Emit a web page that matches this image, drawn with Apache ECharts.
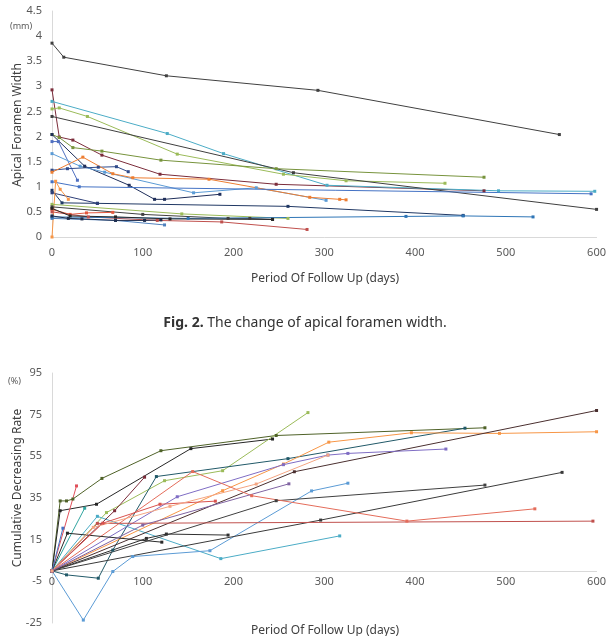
<!DOCTYPE html>
<html><head><meta charset="utf-8">
<script src="https://cdn.jsdelivr.net/npm/echarts@6/dist/echarts.min.js"></script>
<style>html,body{margin:0;padding:0;background:#fff}#c{width:609px;height:636px}</style>
</head><body><div id="c"></div>
<script>
// ---------- Top chart: apical foramen width (mm) vs days ----------
const widthTicks = [0,0.5,1,1.5,2,2.5,3,3.5,4,4.5];
const dayTicks = [0,100,200,300,400,500,600];
const w01 = [[0,3.86],[13,3.58],[126,3.21],[293,2.92],[559,2.04]];
const w02 = [[0,2.93],[8,1.99],[23,1.93],[55,1.63],[119,1.25],[247,1.05],[476,0.92]];
const w03 = [[0,2.70],[127,2.06],[189,1.66],[303,1.03],[492,0.92],[598,0.91]];
const w04 = [[0,2.55],[8,2.57],[39,2.40],[138,1.65],[255,1.25],[324,1.12],[433,1.07]];
const w05 = [[0,2.40],[266,1.28],[600,0.55]];
const w06 = [[0,2.04],[8,1.98],[23,1.78],[55,1.71],[120,1.53],[247,1.36],[476,1.19]];
const w07 = [[0,1.90],[7,1.90],[28,1.13]];
const w08 = [[0,2.04],[36,1.41],[85,1.03],[113,0.75],[124,0.75],[185,0.85]];
const w09 = [[0,1.66],[31,1.41],[58,1.29],[156,0.88],[225,0.98],[302,0.73]];
const w10 = [[0,1.33],[17,1.36],[51,1.39],[71,1.40],[84,1.30]];
const w11 = [[0,1.29],[34,1.59],[67,1.26],[89,1.18],[173,1.15],[284,0.79],[317,0.75],[324,0.74]];
const w12 = [[0,1.10],[30,1.00],[594,0.86]];
const w13 = [[0,0.93],[11,0.68],[50,0.67],[260,0.61],[453,0.43]];
const w14 = [[0,0.88],[50,0.67]];
const w15 = [[0,0],[4,1.11],[9,0.95],[18,0.75]];
const w16 = [[0,0.65],[143,0.46],[260,0.37]];
const w17 = [[0,0.60],[100,0.45],[194,0.37],[218,0.37],[243,0.35]];
const w18 = [[0,0.55],[20,0.45],[38,0.48],[67,0.49]];
const w19 = [[0,0.50],[40,0.40],[116,0.33],[187,0.30],[281,0.15]];
const w20 = [[0,0.37],[70,0.33],[124,0.24]];
const w21 = [[0,0.40],[150,0.37],[390,0.41],[453,0.42],[530,0.40]];
const w22 = [[0,0.42],[18,0.37],[33,0.36],[70,0.33],[102,0.33],[120,0.34]];
const w23 = [[0,0.57],[20,0.42],[70,0.40],[130,0.36],[243,0.35]];
const widthSeries = [w01,w02,w03,w04,w05,w06,w07,w08,w09,w10,w11,w12,w13,w14,w15,w16,w17,w18,w19,w20,w21,w22,w23];
const widthColors = ['#404040','#7B2C3A','#4BACC6','#9BBB59','#3F3F3F','#77933C','#4F6FC0','#1F2E5A','#5B9BD5','#2F4A8A','#ED7D31','#4472C4','#203864','#2E3F78','#F79646','#9BBB59','#404040','#E2583E','#C0504D','#4F81BD','#2E75B6','#1F2D4D','#262626'];

// ---------- Bottom chart: cumulative decreasing rate (%) vs days ----------
const rateTicks = [-25,-5,15,35,55,75,95];
const r01 = [[0,0],[9,33.6],[16,33.6],[23,34.5],[55,44.4],[120,57.7],[247,65],[477,68.7]];
const r02 = [[0,0],[9,28.9],[49,32],[153,58.7],[243,63.3]];
const r03 = [[0,0],[60,28],[124,43.3],[188,48.1],[282,76]];
const r04 = [[0,0],[27,40.8]];
const r05 = [[0,0],[36,30.1]];
const r06 = [[0,0],[50,26.2],[186,5.9],[317,16.8]];
const r07 = [[0,0],[34.5,-23.6],[67,-0.3],[89,6.9],[174,9.7],[286,38.4],[326,42.1]];
const r08 = [[0,0],[16,-1.9],[51,-3.5],[67,10],[115,45.3],[260,53.9],[455,68.5]];
const r09 = [[0,0],[188,38.5],[255,51.3],[305,61.8],[396,66.3],[493,66],[600,66.8]];
const r10 = [[0,0],[267,47.6],[600,77]];
const r11 = [[0,0],[138,35.6],[255,51],[304,55.6],[326,56.4],[434,58.5]];
const r12 = [[0,0],[296,24.4],[562,47.3]];
const r13 = [[0,0],[104,15.6],[126,17.7],[194,17.2]];
const r14 = [[0,0],[247,33.7],[477,41.2]];
const r15 = [[0,0],[155,47.7],[220,36.1],[391,23.9],[532,29.8]];
const r16 = [[0,0],[50,22.8],[596,23.9]];
const r17 = [[0,0],[17,18.1],[121,13.8]];
const r18 = [[0,0],[69,28.9],[102,45]];
const r19 = [[0,0],[56,22.9],[119,32],[180,33.5]];
const r20 = [[0,0],[12,20.5]];
const r21 = [[0,0],[100,22],[261,41.8]];
const r22 = [[0,0],[45.5,20.9],[130,31],[225,41.7],[304,55.6]];
const rateSeries = [r01,r02,r03,r04,r05,r06,r07,r08,r09,r10,r11,r12,r13,r14,r15,r16,r17,r18,r19,r20,r21,r22];
const rateColors = ['#4F6228','#262626','#9BBB59','#E0505A','#31A5A0','#4BACC6','#5B9BD5','#215968','#F79646','#4A2F2F','#7F6DC4','#3A3A3A','#303030','#404040','#E46C5A','#C0504D','#2B2B2B','#7B2C3A','#D9534F','#4472C4','#8064A2','#F4A582'];

const FONT = 'Noto Sans';
const axisLbl = {color:'#595959', fontSize:11, fontFamily:FONT};

function mk(data, color, gi){
  return {type:'line', xAxisIndex:gi, yAxisIndex:gi, data:data, symbol:'rect', symbolSize:3,
    showAllSymbol:true, lineStyle:{width:1, color:color}, itemStyle:{color:color}, silent:true, animation:false};
}
const series = [];
widthSeries.forEach((d,i)=>series.push(mk(d, widthColors[i], 0)));
rateSeries.forEach((d,i)=>series.push(mk(d, rateColors[i], 1)));

// bottom grid geometry: zero line offset from the grid bottom
const g1Top = 373, g1H = 250;
const zeroOffset = -g1H * (0 - rateTicks[0]) / (rateTicks[rateTicks.length-1] - rateTicks[0]);

const chart = echarts.init(document.getElementById('c'));
chart.setOption({
  animation:false,
  grid:[{left:52, top:11, width:545, height:226},{left:52, top:g1Top, width:545, height:g1H}],
  xAxis:[
    {gridIndex:0, type:'value', min:dayTicks[0], max:dayTicks[dayTicks.length-1], interval:100, axisLine:{show:true, onZero:false, lineStyle:{color:'#D9D9D9'}}, axisTick:{show:false}, splitLine:{show:false}, axisLabel:Object.assign({margin:10},axisLbl)},
    {gridIndex:1, type:'value', min:dayTicks[0], max:dayTicks[dayTicks.length-1], interval:100, offset:zeroOffset, axisLine:{show:true, onZero:false, lineStyle:{color:'#D9D9D9'}}, axisTick:{show:false}, splitLine:{show:false}, axisLabel:Object.assign({margin:5},axisLbl)}
  ],
  yAxis:[
    {gridIndex:0, type:'value', min:widthTicks[0], max:widthTicks[widthTicks.length-1], interval:0.5, axisLine:{show:true,lineStyle:{color:'#D9D9D9'}}, axisTick:{show:false}, splitLine:{show:false}, axisLabel:Object.assign({margin:10},axisLbl)},
    {gridIndex:1, type:'value', min:rateTicks[0], max:rateTicks[rateTicks.length-1], interval:20, axisLine:{show:true,lineStyle:{color:'#D9D9D9'}}, axisTick:{show:false}, splitLine:{show:false}, axisLabel:Object.assign({margin:10},axisLbl)}
  ],
  graphic:[
    {type:'text', left:10, top:22, style:{text:'(mm)', fill:'#595959', font:'9px "Noto Sans"'}},
    {type:'text', x:18, y:125, rotation:Math.PI/2, style:{text:'Apical Foramen Width', fill:'#404040', font:'12px "Noto Sans"', align:'center', verticalAlign:'middle'}},
    {type:'text', x:325, y:279, style:{text:'Period Of Follow Up (days)', fill:'#404040', font:'12px "Noto Sans"', align:'center', verticalAlign:'middle'}},
    {type:'text', x:305, y:323, style:{text:'{b|Fig. 2.} The change of apical foramen width.', rich:{b:{fontWeight:'bold', fontSize:14, fill:'#333', fontFamily:FONT}}, fill:'#333', font:'14px "Noto Sans"', align:'center', verticalAlign:'middle'}},
    {type:'text', left:8, top:377, style:{text:'(%)', fill:'#595959', font:'9px "Noto Sans"'}},
    {type:'text', x:18, y:488, rotation:Math.PI/2, style:{text:'Cumulative Decreasing Rate', fill:'#404040', font:'12px "Noto Sans"', align:'center', verticalAlign:'middle'}},
    {type:'text', x:325, y:631, style:{text:'Period Of Follow Up (days)', fill:'#404040', font:'12px "Noto Sans"', align:'center', verticalAlign:'middle'}}
  ],
  series:series
});
</script></body></html>
